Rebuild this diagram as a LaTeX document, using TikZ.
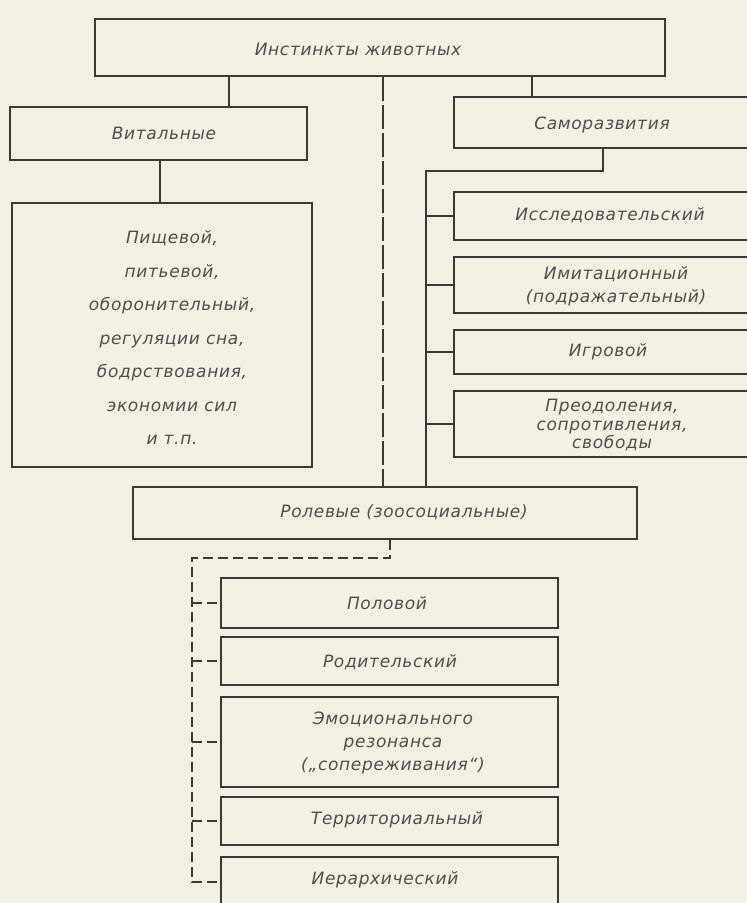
\documentclass[tikz,border=0pt]{standalone}
\usepackage{fontspec}
\setmainfont{DejaVu Sans}
\newfontfamily\diafont{DejaVu Sans Oblique}[LetterSpace=4]
\definecolor{paper}{RGB}{244,240,227}
\definecolor{linec}{RGB}{58,58,56}
\definecolor{textc}{RGB}{78,78,76}
\tikzset{
  box/.style={draw=linec, line width=1.7pt, inner sep=0pt},
  lbl/.style={font=\diafont\fontsize{17}{23}\selectfont, text=textc, align=center, inner sep=0pt},
  conn/.style={draw=linec, line width=1.7pt},
  dconn/.style={conn, dash pattern=on 10pt off 5pt},
  mconn/.style={conn, dash pattern=on 24pt off 4pt},
}
\begin{document}
\begin{tikzpicture}[x=1pt,y=-1pt]
\useasboundingbox (0,0) rectangle (747,903);
\clip (0,0) rectangle (747,903);
\fill[paper] (0,0) rectangle (747,903);

% boxes
\node[box, minimum width=570, minimum height=57] (top) at (380,47.5) {};
\node[box, minimum width=297, minimum height=53] (vit) at (158.5,133.5) {};
\node[box, minimum width=316, minimum height=51] (samo) at (612,122.5) {};
\node[box, minimum width=300, minimum height=264] (big) at (162,335) {};
\node[box, minimum width=316, minimum height=48] (issl) at (612,216) {};
\node[box, minimum width=316, minimum height=56] (imit) at (612,285) {};
\node[box, minimum width=316, minimum height=44] (igr) at (612,352) {};
\node[box, minimum width=316, minimum height=66] (preod) at (612,424) {};
\node[box, minimum width=504, minimum height=52] (rol) at (385,513) {};
\node[box, minimum width=337, minimum height=50] (pol) at (389.5,603) {};
\node[box, minimum width=337, minimum height=48] (rod) at (389.5,661) {};
\node[box, minimum width=337, minimum height=90] (emo) at (389.5,742) {};
\node[box, minimum width=337, minimum height=48] (terr) at (389.5,821) {};
\node[box, minimum width=337, minimum height=50] (ier) at (389.5,882) {};

% labels
\node[lbl] (ltop) at (358,49) {Инстинкты животных};
\node[lbl] (lvit) at (164,133) {Витальные};
\node[lbl] (lsamo) at (602,125) {Саморазвития};
\node[lbl, font=\diafont\fontsize{17}{33.5}\selectfont] (lbig) at (172,338)
  {Пищевой,\\питьевой,\\оборонительный,\\регуляции сна,\\бодрствования,\\экономии сил\\и т.п.};
\node[lbl] (lissl) at (610,215) {Исследовательский};
\node[lbl] (limit) at (616,286) {Имитационный\\(подражательный)};
\node[lbl] (ligr) at (608,352) {Игровой};
\node[lbl, font=\diafont\fontsize{17}{18.5}\selectfont] (lpreod) at (612,425) {Преодоления,\\сопротивления,\\свободы};
\node[lbl] (lrol) at (404,512) {Ролевые (зоосоциальные)};
\node[lbl] (lpol) at (387,603) {Половой};
\node[lbl] (lrod) at (390,662) {Родительский};
\node[lbl] (lemo) at (393,743) {Эмоционального\\резонанса\\(„сопереживания“)};
\node[lbl] (lterr) at (397,820) {Территориальный};
\node[lbl] (lier) at (385,880) {Иерархический};

% helper coordinates
\coordinate (c1) at (229,0);
\coordinate (c2) at (532,0);
\coordinate (c3) at (160,0);
\coordinate (mx) at (383,0);
\coordinate (sx) at (603,0);
\coordinate (bx) at (426,0);
\coordinate (by) at (0,171);
\coordinate (rx) at (390,0);
\coordinate (lx) at (192,0);
\coordinate (ry) at (0,558);

% solid connectors
\draw[conn] (top.south -| c1) -- (vit.north -| c1);
\draw[conn] (top.south -| c2) -- (samo.north -| c2);
\draw[conn] (vit.south -| c3) -- (big.north -| c3);
\draw[conn] (samo.south -| sx) |- (bx |- by) -- (rol.north -| bx);
\draw[conn] (issl.west -| bx) -- (issl.west);
\draw[conn] (imit.west -| bx) -- (imit.west);
\draw[conn] (igr.west -| bx) -- (igr.west);
\draw[conn] (preod.west -| bx) -- (preod.west);

% dashed connectors
\draw[mconn] (top.south -| mx) -- (rol.north -| mx);
\draw[dconn] (rol.south -| rx) -- (rx |- ry) -| (ier.west -| lx) -- (ier.west);
\draw[dconn] (pol.west -| lx) -- (pol.west);
\draw[dconn] (rod.west -| lx) -- (rod.west);
\draw[dconn] (emo.west -| lx) -- (emo.west);
\draw[dconn] (terr.west -| lx) -- (terr.west);
\end{tikzpicture}
\end{document}
